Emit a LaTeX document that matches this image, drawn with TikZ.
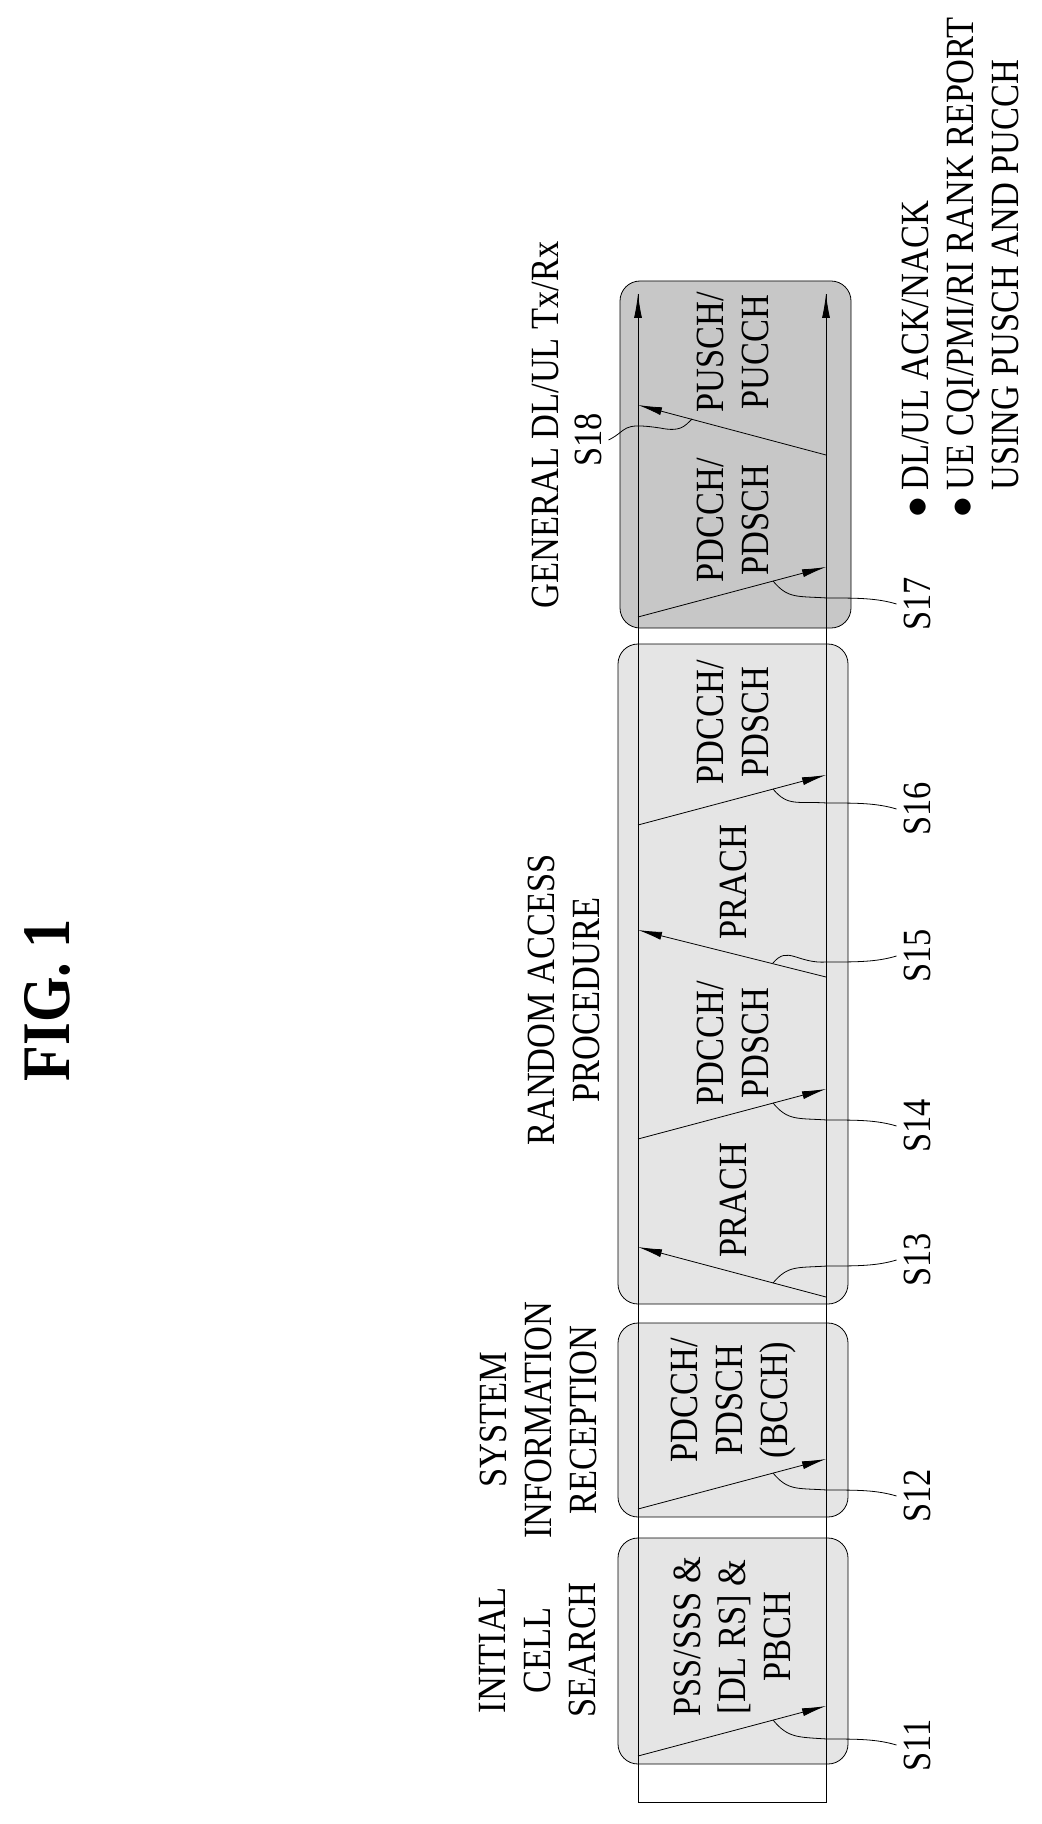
\documentclass[tikz,border=0pt]{standalone}
\usepackage{fontspec}
\setmainfont[FakeStretch=0.86]{Liberation Serif}
\usetikzlibrary{arrows.meta}

\tikzset{
	phase/.style={draw, thin, rounded corners=10pt, fill=black!10},
	txt/.style={rotate=90, align=center, font=\fontsize{20}{22.5}\selectfont},
	sig/.style={-{Latex[length=12pt,width=4pt]}},
	lead/.style={thin}
}

\begin{document}
\begin{tikzpicture}[x=0.5pt, y=-0.5pt]
	\useasboundingbox (0,0) rectangle (1041,1824);
	% band ends
	\coordinate (BL) at (638, 1802);
	\coordinate (BR) at (826, 1802);
	\coordinate (TL) at (638, 294);
	\coordinate (TR) at (826, 294);
	
	% phase boxes
	\filldraw[phase] (618, 1538) rectangle (848, 1764);
	\filldraw[phase] (618, 1323) rectangle (848, 1517);
	\filldraw[phase] (618, 644) rectangle (848, 1304);
	\filldraw[phase, fill=black!22] (620, 281) rectangle (851, 628);
	
	% band
	\draw[thin] (TL) -- (BL) -- (BR) -- (TR);
	\draw[sig] (BL) -- (TL);
	\draw[sig] (BR) -- (TR);
	
	% channel texts
	\node[txt] (c11) at (732, 1637) {PSS/SSS \&\\ {[DL RS] \&}\\ PBCH};
	\node[txt] (c12) at (734, 1400) {PDCCH/\\ PDSCH\\ (BCCH)};
	\node[txt] (c13) at (733, 1200) {PRACH};
	\node[txt] (c14) at (733, 1043) {PDCCH/\\ PDSCH};
	\node[txt] (c15) at (733, 882) {PRACH};
	\node[txt] (c16) at (733, 722) {PDCCH/\\ PDSCH};
	\node[txt] (c17) at (733, 520) {PDCCH/\\ PDSCH};
	\node[txt] (c18) at (733, 352) {PUSCH/\\ PUCCH};
	
	% phase titles
	\node[txt] (t1) at (537, 1650) {INITIAL\\ CELL\\ SEARCH};
	\node[txt] (t2) at (538, 1420) {SYSTEM\\ INFORMATION\\ RECEPTION};
	\node[txt] (t3) at (564, 1000) {RANDOM ACCESS\\ PROCEDURE};
	\node[txt] (t4) at (545, 425) {GENERAL DL/UL Tx/Rx};
	\node[txt, font=\fontsize{34}{40}\selectfont\bfseries] (fig) at (47, 1000) {FIG. 1};
	
	% signals and step labels
	\foreach \n/\ya/\yb/\yl in {11/1756/1706/1745, 12/1509/1459/1496, 14/1139/1089/1126,
	                            16/825/775/809, 17/617/567/604} {
		\coordinate (a\n) at (638, \ya);
		\coordinate (b\n) at (826, \yb);
		\coordinate (m\n) at (773, \ya-36);
		\node[txt] (S\n) at (917, \yl) {S\n};
		\draw[sig] (a\n) -- (b\n);
		\draw[lead] (m\n) .. controls +(15,18) and +(-30,-2) .. (827, \yl-6)
			.. controls +(30,0) and +(-20,-6) .. (S\n.north);
	}
	\foreach \n/\ya/\yb/\yl in {13/1297/1247/1260, 15/977/930/956} {
		\coordinate (a\n) at (826, \ya);
		\coordinate (b\n) at (638, \yb);
		\coordinate (m\n) at (773, \ya-14);
		\node[txt] (S\n) at (917, \yl) {S\n};
		\draw[sig] (a\n) -- (b\n);
		\draw[lead] (m\n) .. controls +(15,-18) and +(-30,2) .. (827, \yl+6)
			.. controls +(30,0) and +(-20,6) .. (S\n.north);
	}
	\coordinate (a18) at (826, 455);
	\coordinate (b18) at (638, 405);
	\coordinate (m18) at (692, 419);
	\node[txt] (S18) at (588, 440) {S18};
	\draw[sig] (a18) -- (b18);
	\draw[lead] (S18.south) .. controls +(20,-10) and +(-40,-6) .. (660, 428)
		.. controls +(20,4) and +(-8,8) .. (m18);
	
	% notes
	\node[txt, align=left, anchor=west] (note) at (960, 525)
		{$\bullet$\,DL/UL ACK/NACK\\ $\bullet$\,UE CQI/PMI/RI RANK REPORT\\ \phantom{$\bullet$\,}USING PUSCH AND PUCCH};
\end{tikzpicture}
\end{document}
